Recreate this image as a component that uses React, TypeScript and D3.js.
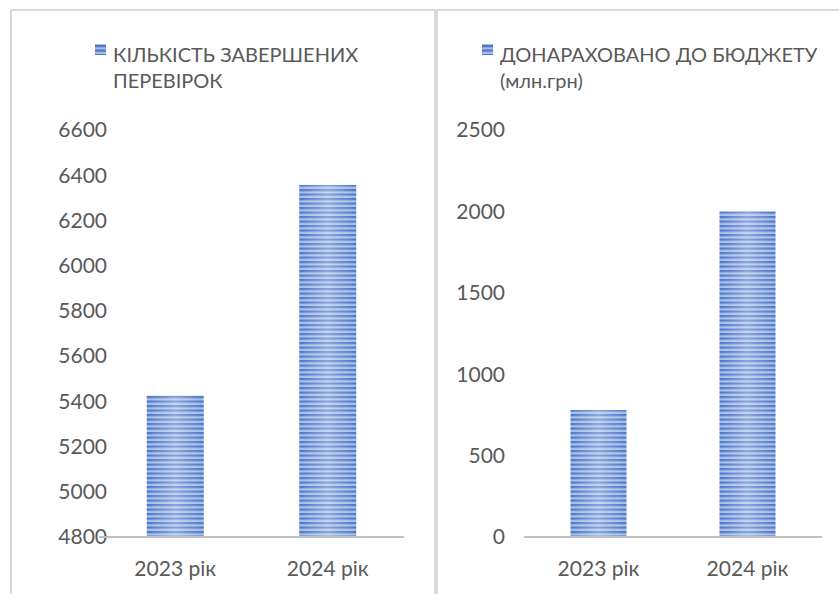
import React from "react";
import * as d3 from "d3";

const categories = ["2023 рік", "2024 рік"];
const checksValues = [5425, 6357];
const budgetValues = [780, 2000];
const checksTicks = [4800, 5000, 5200, 5400, 5600, 5800, 6000, 6200, 6400, 6600];
const budgetTicks = [0, 500, 1000, 1500, 2000, 2500];
const checksLegend = ["КІЛЬКІСТЬ ЗАВЕРШЕНИХ", "ПЕРЕВІРОК"];
const budgetLegend = ["ДОНАРАХОВАНО ДО БЮДЖЕТУ", "(млн.грн)"];

const FONT = "Lato, 'Open Sans', sans-serif";
const TEXT = "#595959";

type PanelProps = {
  id: string;
  values: number[];
  ticks: number[];
  domain: [number, number];
  xRange: [number, number];
  labelRight: number;
  barWidth: number;
  legend: string[];
  legendX: number;
};

function Panel({ id, values, ticks, domain, xRange, labelRight, barWidth, legend, legendX }: PanelProps) {
  const y = d3.scaleLinear().domain(domain).range([537, 130]);
  const x = d3.scaleBand<string>().domain(categories).range(xRange).paddingInner(0.62).paddingOuter(0.31);
  return (
    <g>
      <rect x={legendX} y={44} width={11} height={11} fill={`url(#stripes-${id})`} />
      {legend.map((l, i) => (
        <text key={i} x={legendX + 18} y={62 + i * 26} fontSize={20} fill={TEXT} fontFamily={FONT}>
          {l}
        </text>
      ))}
      {ticks.map((t) => (
        <text key={t} x={labelRight} y={y(t)} dy="0.35em" textAnchor="end" fontSize={21} fill={TEXT} fontFamily={FONT}>
          {t}
        </text>
      ))}
      {categories.map((c, i) => {
        const bx = (x(c) as number) + x.bandwidth() / 2 - barWidth / 2;
        const top = y(values[i]);
        return (
          <g key={c}>
            <rect x={bx} y={top} width={barWidth} height={537 - top} fill={`url(#stripes-${id})`} />
            <rect x={bx} y={top} width={barWidth} height={537 - top} fill="url(#shine)" />
          </g>
        );
      })}
      <line x1={xRange[0]} x2={xRange[1]} y1={537} y2={537} stroke="#bfbfbf" strokeWidth={2} />
      {categories.map((c) => (
        <text key={c} x={(x(c) as number) + x.bandwidth() / 2} y={576} textAnchor="middle" fontSize={21} fill={TEXT} fontFamily={FONT}>
          {c}
        </text>
      ))}
    </g>
  );
}

export default function App() {
  return (
    <svg width={839} height={594} style={{ position: "absolute", left: 0, top: 0, background: "#fff" }}>
      <defs>
        {["a", "b"].map((id) => (
          <pattern key={id} id={`stripes-${id}`} patternUnits="userSpaceOnUse" width={8} height={4.5}>
            <rect width={8} height={4.5} fill="#a7bde6" />
            <rect width={8} height={2.2} fill="#4a76c9" />
          </pattern>
        ))}
        <linearGradient id="shine" x1="0" x2="1" y1="0" y2="0">
          <stop offset="0" stopColor="#fff" stopOpacity={0} />
          <stop offset="0.5" stopColor="#fff" stopOpacity={0.35} />
          <stop offset="1" stopColor="#fff" stopOpacity={0} />
        </linearGradient>
      </defs>
      <rect x={11} y={10} width={424} height={600} fill="#fff" stroke="#d9d9d9" strokeWidth={2} />
      <rect x={437} y={10} width={420} height={600} fill="#fff" stroke="#d9d9d9" strokeWidth={2} />
      <Panel
        id="a"
        values={checksValues}
        ticks={checksTicks}
        domain={[4800, 6600]}
        xRange={[99, 404]}
        labelRight={107}
        barWidth={57}
        legend={checksLegend}
        legendX={95}
      />
      <Panel
        id="b"
        values={budgetValues}
        ticks={budgetTicks}
        domain={[0, 2500]}
        xRange={[524, 822]}
        labelRight={505}
        barWidth={56}
        legend={budgetLegend}
        legendX={482}
      />
    </svg>
  );
}
